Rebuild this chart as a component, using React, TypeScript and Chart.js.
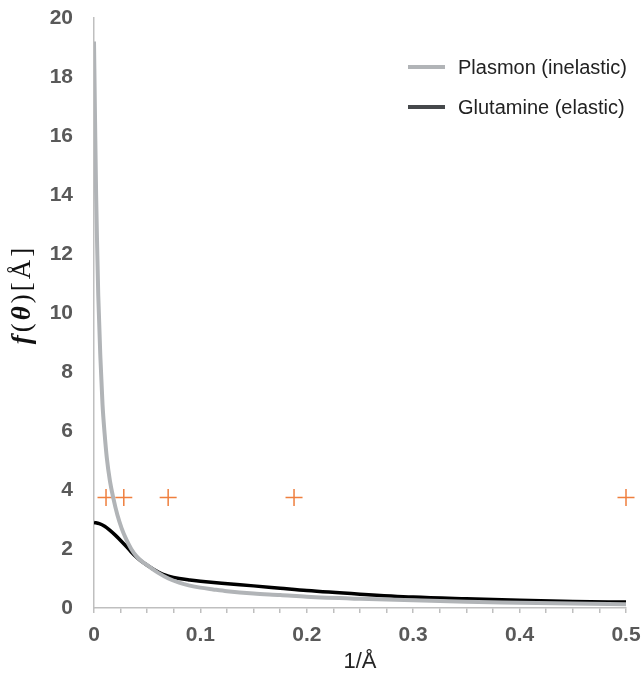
import React, { useEffect, useRef } from "react";
import { Chart, registerables } from "chart.js";

Chart.register(...registerables);

// Plasmon (inelastic) scattering amplitude
const plasmonX = [0, 0.001, 0.002, 0.003, 0.004, 0.006, 0.008, 0.01, 0.012, 0.015, 0.018, 0.022, 0.026, 0.03, 0.035, 0.04, 0.045, 0.05, 0.06, 0.07, 0.08, 0.09, 0.1, 0.112, 0.125, 0.15, 0.175, 0.2, 0.25, 0.3, 0.35, 0.4, 0.45, 0.5];
const plasmonY = [19.2, 16.5, 14.0, 12.2, 10.6, 8.5, 6.9, 5.9, 5.1, 4.3, 3.75, 3.15, 2.7, 2.35, 2.0, 1.75, 1.58, 1.45, 1.2, 1.0, 0.86, 0.76, 0.69, 0.63, 0.57, 0.49, 0.44, 0.38, 0.31, 0.26, 0.21, 0.18, 0.15, 0.13];

// Glutamine (elastic) scattering amplitude
const glutamineX = [0, 0.005, 0.01, 0.015, 0.02, 0.025, 0.03, 0.035, 0.04, 0.045, 0.05, 0.055, 0.06, 0.065, 0.07, 0.08, 0.09, 0.1, 0.12, 0.15, 0.175, 0.2, 0.25, 0.3, 0.35, 0.4, 0.45, 0.5];
const glutamineY = [2.9, 2.86, 2.77, 2.63, 2.47, 2.29, 2.1, 1.9, 1.72, 1.57, 1.45, 1.33, 1.23, 1.14, 1.08, 1.0, 0.95, 0.91, 0.84, 0.75, 0.67, 0.59, 0.47, 0.37, 0.31, 0.26, 0.22, 0.2];

// orange cross markers
const markerX = [0.0113, 0.028, 0.0697, 0.188, 0.5];
const markerY = [3.75, 3.75, 3.75, 3.75, 3.75];

const legendLabels = ["Plasmon (inelastic)", "Glutamine (elastic)"];
const legendColors = ["#B1B4B7", "#45484B"];
const xTitle = "1/Å";

const toXY = (xs: number[], ys: number[]) => xs.map((x, i) => ({ x, y: ys[i] }));

const overlayPlugin = {
  id: "overlay",
  afterDraw(chart: any) {
    const ctx = chart.ctx as CanvasRenderingContext2D;
    // legend
    ctx.save();
    ctx.font = "20px 'Liberation Sans', Arial, sans-serif";
    ctx.textBaseline = "middle";
    ctx.textAlign = "left";
    const lx = 408;
    const ly = [67, 107];
    legendLabels.forEach((lab, i) => {
      ctx.strokeStyle = legendColors[i];
      ctx.lineWidth = 4;
      ctx.beginPath();
      ctx.moveTo(lx, ly[i]);
      ctx.lineTo(lx + 37, ly[i]);
      ctx.stroke();
      ctx.fillStyle = "#222222";
      ctx.fillText(lab, lx + 50, ly[i] + 1);
    });
    ctx.restore();

    // y axis title with mixed styles
    ctx.save();
    const bi = "italic bold 27px 'Liberation Serif', serif";
    const rg = "27px 'Liberation Serif', serif";
    const pieces = [
      { t: "f", f: bi },
      { t: "(", f: rg },
      { t: "θ", f: bi },
      { t: ")", f: rg },
      { t: "[", f: rg },
      { t: "Å", f: rg },
      { t: "]", f: rg },
    ];
    const gap = 3;
    let total = 0;
    const widths = pieces.map((p) => {
      ctx.font = p.f;
      const w = ctx.measureText(p.t).width;
      total += w;
      return w;
    });
    total += gap * (pieces.length - 1);
    ctx.translate(23, 296);
    ctx.rotate(-Math.PI / 2);
    ctx.fillStyle = "#111111";
    ctx.textBaseline = "middle";
    ctx.textAlign = "left";
    let x = -total / 2;
    pieces.forEach((p, i) => {
      ctx.font = p.f;
      ctx.fillText(p.t, x, 0);
      x += widths[i] + gap;
    });
    ctx.restore();
  },
};

export default function App() {
  const ref = useRef<HTMLCanvasElement | null>(null);
  useEffect(() => {
    if (!ref.current) return;
    const chart = new Chart(ref.current, {
      type: "scatter",
      data: {
        datasets: [
          {
            label: legendLabels[0],
            data: toXY(plasmonX, plasmonY),
            showLine: true,
            borderColor: "#B1B4B7",
            borderWidth: 4,
            pointRadius: 0,
            cubicInterpolationMode: "monotone",
            fill: false,
          },
          {
            label: legendLabels[1],
            data: toXY(glutamineX, glutamineY),
            showLine: true,
            borderColor: "#000000",
            borderWidth: 3.5,
            pointRadius: 0,
            cubicInterpolationMode: "monotone",
            fill: false,
          },
          {
            label: "markers",
            data: toXY(markerX, markerY),
            showLine: false,
            clip: false,
            pointStyle: "cross",
            pointRadius: 8.5,
            pointBorderWidth: 1.5,
            borderColor: "#EF7F3E",
            backgroundColor: "#EF7F3E",
          } as any,
        ],
      },
      options: {
        animation: false,
        responsive: false,
        maintainAspectRatio: false,
        layout: { padding: { top: 18, right: 16, left: 0, bottom: 0 } },
        plugins: {
          legend: { display: false },
          tooltip: { enabled: false },
        },
        scales: {
          x: {
            type: "linear",
            min: 0,
            max: 0.5,
            afterFit: (s: any) => {
              s.height = 67;
            },
            ticks: {
              stepSize: 0.025,
              autoSkip: false,
              maxRotation: 0,
              padding: 0,
              color: "#595959",
              font: { family: "'Liberation Sans', Arial, sans-serif", size: 21, weight: "bold", lineHeight: 2.1 },
              callback: (v: any) => {
                const n = Number(v);
                if (Math.abs(n * 10 - Math.round(n * 10)) > 1e-6) return "";
                return n === 0 ? "0" : n.toFixed(1);
              },
            },
            grid: {
              drawOnChartArea: false,
              drawTicks: true,
              tickLength: 5,
              color: "#BFBFBF",
              lineWidth: 1.5,
            },
            border: { color: "#BFBFBF", width: 1.5 },
            title: {
              display: true,
              text: xTitle,
              color: "#262626",
              font: { family: "'Liberation Sans', Arial, sans-serif", size: 22 },
              padding: { top: 0, bottom: 0 },
            },
          },
          y: {
            type: "linear",
            min: 0,
            max: 20,
            afterFit: (s: any) => {
              s.width = 94;
            },
            ticks: {
              stepSize: 2,
              padding: 0,
              color: "#595959",
              font: { family: "'Liberation Sans', Arial, sans-serif", size: 21, weight: "bold" },
            },
            grid: {
              drawOnChartArea: false,
              drawTicks: true,
              tickLength: 21,
              tickColor: "rgba(0,0,0,0)",
            },
            border: { color: "#BFBFBF", width: 1.5 },
          },
        },
      },
      plugins: [overlayPlugin],
    } as any);
    return () => chart.destroy();
  }, []);
  return (
    <div style={{ position: "fixed", left: 0, top: 0, width: 642, height: 675, background: "#fff" }}>
      <canvas ref={ref} width={642} height={675} style={{ width: 642, height: 675 }} />
    </div>
  );
}
